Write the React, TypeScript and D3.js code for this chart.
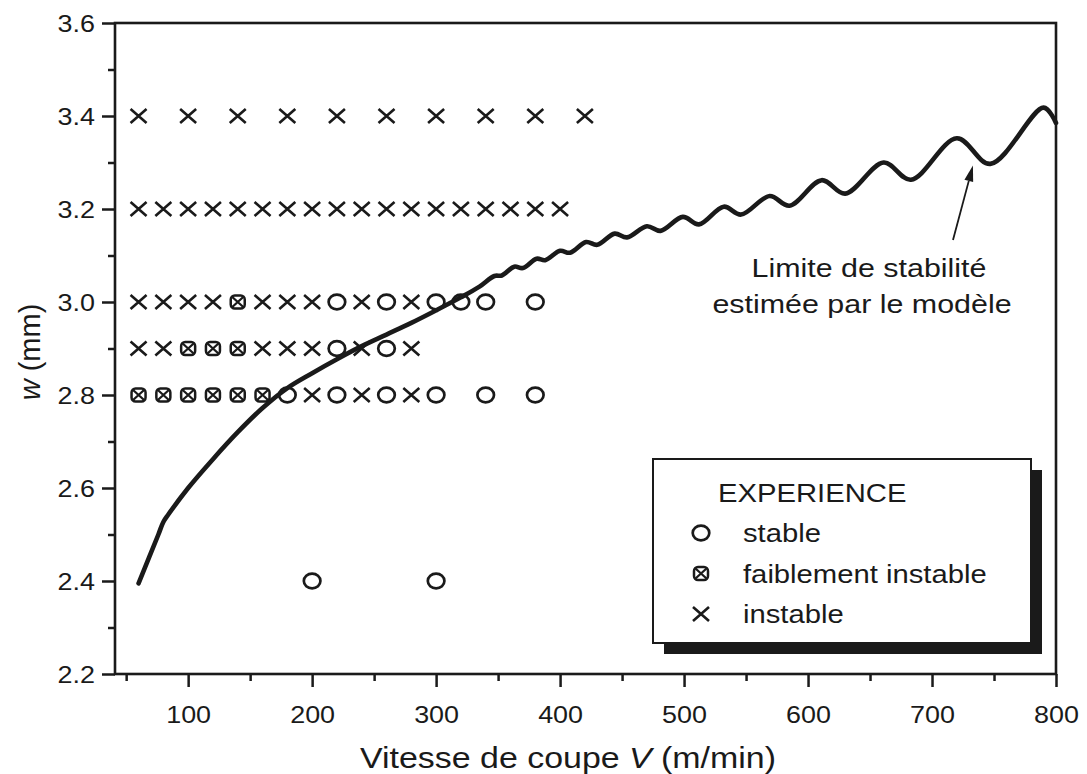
import React, { useRef, useEffect } from 'react';
import * as d3 from 'd3';

const W = 1087;
const H = 774;

// marker rows, x = instable, f = faiblement instable, o = stable
const row34: [number, string][] = [
  [60, 'x'], [100, 'x'], [140, 'x'], [180, 'x'], [220, 'x'],
  [260, 'x'], [300, 'x'], [340, 'x'], [380, 'x'], [420, 'x']
];
const row32: [number, string][] = [
  [60, 'x'], [80, 'x'], [100, 'x'], [120, 'x'], [140, 'x'], [160, 'x'],
  [180, 'x'], [200, 'x'], [220, 'x'], [240, 'x'], [260, 'x'], [280, 'x'],
  [300, 'x'], [320, 'x'], [340, 'x'], [360, 'x'], [380, 'x'], [400, 'x']
];
const row30: [number, string][] = [
  [60, 'x'], [80, 'x'], [100, 'x'], [120, 'x'], [140, 'f'], [160, 'x'],
  [180, 'x'], [200, 'x'], [220, 'o'], [240, 'x'], [260, 'o'], [280, 'x'],
  [300, 'o'], [320, 'o'], [340, 'o'], [380, 'o']
];
const row29: [number, string][] = [
  [60, 'x'], [80, 'x'], [100, 'f'], [120, 'f'], [140, 'f'], [160, 'x'],
  [180, 'x'], [200, 'x'], [220, 'o'], [240, 'x'], [260, 'o'], [280, 'x']
];
const row28: [number, string][] = [
  [60, 'f'], [80, 'f'], [100, 'f'], [120, 'f'], [140, 'f'], [160, 'f'],
  [180, 'o'], [200, 'x'], [220, 'o'], [240, 'x'], [260, 'o'], [280, 'x'],
  [300, 'o'], [340, 'o'], [380, 'o']
];
const row24: [number, string][] = [[200, 'o'], [300, 'o']];

// limite de stabilite (modele)
const limitV = [
  60, 76, 80, 84, 100, 120, 140, 160, 180, 200, 220, 240, 260, 280, 300, 320, 335,
  347, 353, 363, 370, 381, 388, 400, 408, 421, 430, 444, 454, 470, 481, 499,
  512, 532, 546, 569, 585, 611, 630, 661, 683, 720, 747, 790, 800
];
const limitW = [
  2.395, 2.5, 2.527, 2.543, 2.6, 2.662, 2.72, 2.772, 2.815, 2.847, 2.877, 2.905, 2.93,
  2.955, 2.982, 3.01, 3.033, 3.056, 3.057, 3.076, 3.073, 3.093, 3.09, 3.11,
  3.106, 3.129, 3.123, 3.147, 3.139, 3.163, 3.153, 3.183, 3.167, 3.205, 3.188,
  3.228, 3.207, 3.262, 3.233, 3.3, 3.263, 3.352, 3.297, 3.418, 3.385
];

const xMajor = [100, 200, 300, 400, 500, 600, 700, 800];
const xMinor = [50, 150, 250, 350, 450, 550, 650, 750];
const yMajor = [2.2, 2.4, 2.6, 2.8, 3.0, 3.2, 3.4, 3.6];
const yMinor = [2.3, 2.5, 2.7, 2.9, 3.1, 3.3, 3.5];

const legendItems: [string, string][] = [
  ['o', 'stable'],
  ['f', 'faiblement instable'],
  ['x', 'instable']
];

const INK = '#1a1a1a';
const FONT = '"Liberation Sans", Arial, Helvetica, sans-serif';
const SX = 1.17; // the scan is stretched sideways

function drawMarker(g: any, t: string, cx: number, cy: number) {
  if (t === 'o') {
    g.append('ellipse')
      .attr('cx', cx).attr('cy', cy)
      .attr('rx', 8.3).attr('ry', 7.3)
      .style('fill', 'none').style('stroke', INK).style('stroke-width', 2.7);
  } else if (t === 'x') {
    g.append('path')
      .attr('d', `M${cx - 8},${cy - 7}L${cx + 8},${cy + 7}M${cx - 8},${cy + 7}L${cx + 8},${cy - 7}`)
      .style('stroke', INK).style('stroke-width', 2.6).style('fill', 'none');
  } else {
    g.append('rect')
      .attr('x', cx - 7).attr('y', cy - 6.5)
      .attr('width', 14).attr('height', 13).attr('rx', 4)
      .style('fill', 'none').style('stroke', INK).style('stroke-width', 2.5);
    g.append('path')
      .attr('d', `M${cx - 5.5},${cy - 5}L${cx + 5.5},${cy + 5}M${cx - 5.5},${cy + 5}L${cx + 5.5},${cy - 5}`)
      .style('stroke', INK).style('stroke-width', 2.3).style('fill', 'none');
  }
}

export default function App() {
  const svgRef = useRef<SVGSVGElement>(null);

  useEffect(() => {
    if (!svgRef.current) return;
    const svg = d3.select(svgRef.current);
    svg.selectAll('*').remove();

    const x = d3.scaleLinear().domain([41, 800]).range([115, 1056]);
    const y = d3.scaleLinear().domain([2.2, 3.6]).range([674, 23]);

    // axes
    const xAxis = svg.append('g').attr('transform', `translate(0,${y(2.2)})`)
      .call(d3.axisBottom(x).tickValues(xMajor).tickSize(13).tickFormat(d3.format('d')));
    svg.append('g').attr('transform', `translate(0,${y(2.2)})`)
      .call(d3.axisBottom(x).tickValues(xMinor).tickSize(7).tickFormat(() => ''));
    const yAxis = svg.append('g').attr('transform', `translate(${x(41)},0)`)
      .call(d3.axisLeft(y).tickValues(yMajor).tickSize(13).tickFormat(d3.format('.1f')));
    svg.append('g').attr('transform', `translate(${x(41)},0)`)
      .call(d3.axisLeft(y).tickValues(yMinor).tickSize(7).tickFormat(() => ''));

    svg.selectAll('.domain').remove();
    svg.selectAll('.tick line').style('stroke', INK).style('stroke-width', 2.5);

    xAxis.selectAll('.tick text')
      .attr('y', 0).attr('dy', 0)
      .attr('transform', `translate(0,49) scale(${SX},1)`)
      .style('font-family', FONT).style('font-size', '23px').style('fill', INK);
    yAxis.selectAll('.tick text')
      .attr('x', 0).attr('dy', '0.36em')
      .attr('transform', `translate(-20,0) scale(${SX},1)`)
      .style('font-family', FONT).style('font-size', '23px').style('fill', INK);

    // frame
    svg.append('rect')
      .attr('x', x(41)).attr('y', y(3.6))
      .attr('width', x(800) - x(41)).attr('height', y(2.2) - y(3.6))
      .style('fill', 'none').style('stroke', INK).style('stroke-width', 2.6);

    // experimental points
    const marks = svg.append('g');
    const rows: [number, [number, string][]][] = [
      [3.4, row34], [3.2, row32], [3.0, row30], [2.9, row29], [2.8, row28], [2.4, row24]
    ];
    rows.forEach(([w, row]) => {
      row.forEach(([v, t]) => drawMarker(marks, t, x(v), y(w)));
    });

    // model curve
    const line = d3.line<number>()
      .x((d, i) => x(limitV[i]))
      .y((d) => y(d))
      .curve(d3.curveCatmullRom.alpha(0.5));
    svg.append('path')
      .attr('d', line(limitW))
      .style('fill', 'none').style('stroke', INK)
      .style('stroke-width', 4.6).style('stroke-linejoin', 'round').style('stroke-linecap', 'round');

    // annotation
    const ax0 = 953, ay0 = 240, ax1 = x(733), ay1 = y(3.298) + 2;
    const ang = Math.atan2(ay1 - ay0, ax1 - ax0);
    const hl = 16, hw = 4.5;
    const bx = ax1 - hl * Math.cos(ang), by = ay1 - hl * Math.sin(ang);
    svg.append('line')
      .attr('x1', ax0).attr('y1', ay0).attr('x2', bx).attr('y2', by)
      .style('stroke', INK).style('stroke-width', 1.8);
    svg.append('path')
      .attr('d', `M${ax1},${ay1}L${bx + hw * Math.sin(ang)},${by - hw * Math.cos(ang)}L${bx - hw * Math.sin(ang)},${by + hw * Math.cos(ang)}Z`)
      .style('fill', INK);

    const note = [['Limite de stabilité', 869, 277], ['estimée par le modèle', 862, 313]];
    note.forEach(([t, tx, ty]) => {
      svg.append('text')
        .attr('transform', `translate(${tx},${ty}) scale(${SX},1)`)
        .attr('text-anchor', 'middle')
        .style('font-family', FONT).style('font-size', '26px').style('fill', INK)
        .text(t as string);
    });

    // legend
    const lg = svg.append('g');
    lg.append('rect')
      .attr('x', 664).attr('y', 470).attr('width', 378).attr('height', 184)
      .style('fill', INK);
    lg.append('rect')
      .attr('x', 653).attr('y', 459).attr('width', 378).attr('height', 184)
      .style('fill', '#fff').style('stroke', INK).style('stroke-width', 2);
    lg.append('text')
      .attr('transform', `translate(718,502) scale(${SX},1)`)
      .style('font-family', FONT).style('font-size', '25px').style('fill', INK)
      .text('EXPERIENCE');
    legendItems.forEach(([t, label], i) => {
      const cy = 533 + i * 40.5;
      drawMarker(lg, t, 701, cy);
      lg.append('text')
        .attr('transform', `translate(743,${cy + 9}) scale(${SX},1)`)
        .style('font-family', FONT).style('font-size', '25px').style('fill', INK)
        .text(label);
    });

    // axis titles
    const xt = svg.append('text')
      .attr('transform', `translate(568,768) scale(${SX},1)`)
      .attr('text-anchor', 'middle')
      .style('font-family', FONT).style('font-size', '29px').style('fill', INK);
    xt.append('tspan').text('Vitesse de coupe ');
    xt.append('tspan').style('font-style', 'italic').text('V');
    xt.append('tspan').text(' (m/min)');

    const yt = svg.append('text')
      .attr('transform', 'translate(40,352) rotate(-90)')
      .attr('text-anchor', 'middle')
      .style('font-family', FONT).style('font-size', '29px').style('fill', INK);
    yt.append('tspan').style('font-style', 'italic').text('w');
    yt.append('tspan').text(' (mm)');
  }, []);

  return (
    <svg
      ref={svgRef}
      width={W}
      height={H}
      style={{ position: 'absolute', left: 0, top: 0, background: '#fff', display: 'block' }}
    />
  );
}
